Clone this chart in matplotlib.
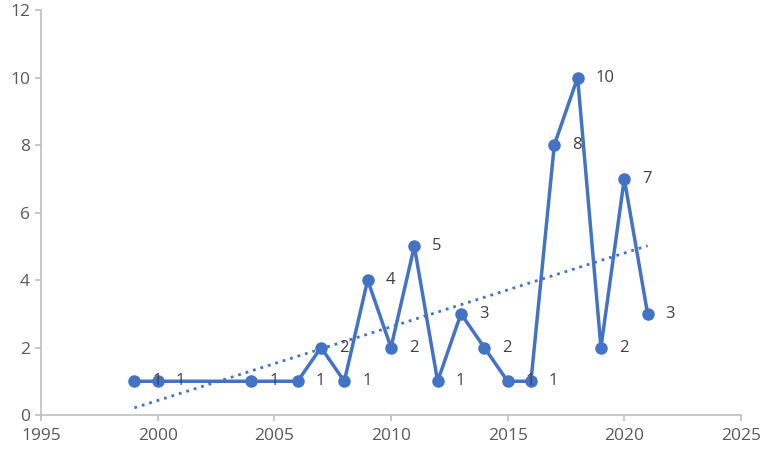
import matplotlib
matplotlib.use("Agg")
import matplotlib.pyplot as plt
import numpy as np

years = [1999, 2000, 2004, 2006, 2007, 2008, 2009, 2010, 2011, 2012,
         2013, 2014, 2015, 2016, 2017, 2018, 2019, 2020, 2021]
counts = [1, 1, 1, 1, 2, 1, 4, 2, 5, 1, 3, 2, 1, 1, 8, 10, 2, 7, 3]

BLUE = "#4472C4"
GREY = "#BFBFBF"
TXT = "#595959"

plt.rcParams["font.family"] = ["Open Sans", "DejaVu Sans"]

fig = plt.figure(figsize=(7.67, 4.49), dpi=100)
ax = fig.add_axes([0.0535, 0.0757, 0.9125, 0.902])

ax.plot(years, counts, color=BLUE, linewidth=2.5, marker="o", markersize=8, zorder=3)

# linear trend line
coef = np.polyfit(years, counts, 1)
xt = np.array([years[0], years[-1]])
ax.plot(xt, np.polyval(coef, xt), color=BLUE, linewidth=2, linestyle=(0, (1, 1.8)), zorder=2)

for x, y in zip(years, counts):
    ax.annotate(str(y), (x, y), xytext=(13, 0), textcoords="offset points",
                ha="left", va="center", fontsize=12, color="#404040", zorder=4)

ax.set_xlim(1995, 2025)
ax.set_ylim(0, 12)
ax.set_xticks(range(1995, 2026, 5))
ax.set_yticks(range(0, 13, 2))

for side in ["top", "right"]:
    ax.spines[side].set_visible(False)
for side in ["left", "bottom"]:
    ax.spines[side].set_color(GREY)
    ax.spines[side].set_linewidth(1.2)

ax.tick_params(axis="both", colors=GREY, labelcolor=TXT, labelsize=12.5, length=4, width=1.2)
ax.tick_params(axis="x", pad=5)
ax.tick_params(axis="y", pad=4)

fig.savefig("out.png", dpi=100)
